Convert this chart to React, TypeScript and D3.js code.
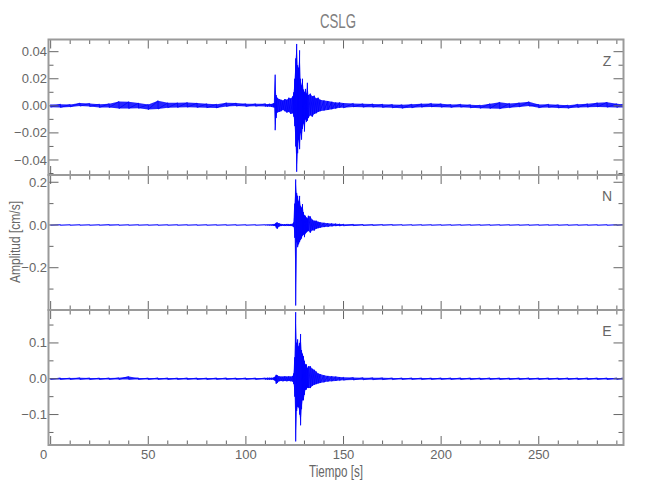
import React from "react";
import * as d3 from "d3";

// ---------- data ----------
const TITLE = "CSLG";
const X_TICKS = [0, 50, 100, 150, 200, 250];
const Z_TICKS = [-0.04, -0.02, 0, 0.02, 0.04];
const N_TICKS = [-0.2, 0, 0.2];
const E_TICKS = [-0.1, 0, 0.1];

// sample times [s] of the envelope (max/min per bin)
const TIMES = [
  0, 5, 10, 15, 20, 25, 30, 35, 40, 45, 50, 55, 60, 65, 70, 75, 80, 85, 90, 95, 100, 105, 110,
  111, 112, 113, 114, 114.5,
  115, 115.5, 116,
  117, 118, 119, 120, 121, 122, 123, 124,
  124.5, 125, 125.5, 126, 126.5, 127, 127.5, 128, 128.5, 129, 129.5, 130, 130.5, 131, 131.5, 132,
  133, 134, 135, 136, 137, 138,
  140, 142, 144, 146, 148, 150,
  155, 160, 165, 170, 175, 180, 185, 190, 195, 200, 205, 210, 215, 220, 225, 230, 235, 240, 245, 250, 255, 260, 265, 270, 275, 280, 285, 290,
  293,
];

const Z_MAX = [
  0.001, 0.0012, 0.001, 0.002, 0.0018, 0.0012, 0.0016, 0.0032, 0.003, 0.002, 0.001, 0.0038, 0.0022, 0.0022, 0.0024, 0.002, 0.0015, 0.0012, 0.0022, 0.002, 0.0015, 0.0015, 0.0015,
  0.0012, 0.0015, 0.0014, 0.0018, 0.002,
  0.023, 0.008, 0.006,
  0.005, 0.0045, 0.004, 0.005, 0.0045, 0.006, 0.0055, 0.007,
  0.01, 0.02, 0.035, 0.0457, 0.03, 0.028, 0.041, 0.02, 0.015, 0.02, 0.012, 0.01, 0.0125, 0.009, 0.017, 0.008,
  0.009, 0.007, 0.0075, 0.0055, 0.006, 0.0045,
  0.004, 0.0035, 0.003, 0.0025, 0.0025, 0.002,
  0.0018, 0.0015, 0.0014, 0.0012, 0.001, 0.0008, 0.0012, 0.0015, 0.0018, 0.0015, 0.001, 0.0012, 0.0008, 0.0005, 0.0015, 0.0026, 0.0018, 0.0022, 0.003, 0.001, 0.0012, 0.0008, 0.0005, 0.0012, 0.0015, 0.0022, 0.0026, 0.0015,
  0.0012,
];
const Z_MIN = [
  -0.001, -0.0012, -0.0008, -0.0002, -0.0005, -0.0012, -0.0013, -0.002, -0.002, -0.0018, -0.0028, -0.0024, -0.0014, -0.0012, -0.001, -0.0012, -0.0014, -0.0016, -0.0005, -0.0002, -0.0005, -0.0003, -0.0005,
  -0.0006, -0.0005, -0.0008, -0.001, -0.0012,
  -0.018, -0.009, -0.005,
  -0.0045, -0.004, -0.003, -0.004, -0.005, -0.0045, -0.006, -0.0055,
  -0.008, -0.015, -0.03, -0.0487, -0.035, -0.025, -0.032, -0.02, -0.025, -0.017, -0.013, -0.019, -0.01, -0.012, -0.011, -0.009,
  -0.007, -0.008, -0.006, -0.0055, -0.0045, -0.004,
  -0.0035, -0.003, -0.0025, -0.002, -0.0015, -0.0015,
  -0.0008, -0.001, -0.001, -0.0012, -0.0015, -0.0018, -0.0015, -0.001, -0.0008, -0.001, -0.0012, -0.001, -0.0015, -0.0018, -0.002, -0.0022, -0.0014, -0.0008, -0.0002, -0.0015, -0.0012, -0.0016, -0.0018, -0.0012, -0.001, -0.0008, -0.001, -0.0012,
  -0.0012,
];

const N_MAX = [
  0.0012, 0.0015, 0.0014, 0.0016, 0.0013, 0.0015, 0.0017, 0.0015, 0.0014, 0.0016, 0.0013, 0.0015, 0.0014, 0.0016, 0.0015, 0.0013, 0.0015, 0.0014, 0.0016, 0.0015, 0.0014, 0.0015, 0.0016,
  0.0018, 0.002, 0.002, 0.003, 0.003,
  0.006, 0.01, 0.012,
  0.008, 0.005, 0.004, 0.004, 0.005, 0.004, 0.005, 0.006,
  0.012, 0.1, 0.213, 0.15, 0.136, 0.11, 0.136, 0.09, 0.081, 0.098, 0.06, 0.045, 0.043, 0.035, 0.03, 0.043,
  0.04, 0.025, 0.02, 0.02, 0.015, 0.013,
  0.01, 0.008, 0.007, 0.006, 0.005, 0.004,
  0.003, 0.0025, 0.002, 0.0018, 0.0018, 0.0016, 0.0015, 0.0016, 0.0015, 0.0014, 0.0015, 0.0016, 0.0015, 0.0014, 0.0015, 0.0016, 0.0015, 0.0014, 0.0015, 0.0016, 0.0015, 0.0014, 0.0015, 0.0016, 0.0015, 0.0014, 0.0015, 0.0016,
  0.0015,
];
const N_MIN = [
  -0.0012, -0.0014, -0.0015, -0.0013, -0.0016, -0.0015, -0.0014, -0.0016, -0.0015, -0.0013, -0.0015, -0.0016, -0.0014, -0.0015, -0.0013, -0.0016, -0.0015, -0.0014, -0.0015, -0.0016, -0.0014, -0.0015, -0.0015,
  -0.0018, -0.002, -0.002, -0.003, -0.003,
  -0.005, -0.012, -0.018,
  -0.007, -0.005, -0.004, -0.005, -0.004, -0.005, -0.005, -0.006,
  -0.01, -0.06, -0.377, -0.08, -0.104, -0.09, -0.08, -0.07, -0.063, -0.05, -0.045, -0.057, -0.04, -0.035, -0.03, -0.028,
  -0.036, -0.025, -0.026, -0.018, -0.015, -0.013,
  -0.01, -0.008, -0.006, -0.005, -0.005, -0.004,
  -0.003, -0.0025, -0.002, -0.0018, -0.0016, -0.0015, -0.0016, -0.0015, -0.0014, -0.0015, -0.0016, -0.0015, -0.0014, -0.0015, -0.0016, -0.0015, -0.0014, -0.0015, -0.0016, -0.0015, -0.0014, -0.0015, -0.0016, -0.0015, -0.0014, -0.0015, -0.0016, -0.0015,
  -0.0015,
];

const E_MAX = [
  0.002, 0.0022, 0.002, 0.0025, 0.0022, 0.002, 0.0023, 0.0025, 0.006, 0.0022, 0.002, 0.0024, 0.0022, 0.002, 0.0023, 0.0021, 0.002, 0.0022, 0.0024, 0.002, 0.0022, 0.0021, 0.0022,
  0.0025, 0.0025, 0.0025, 0.003, 0.004,
  0.006, 0.011, 0.01,
  0.007, 0.006, 0.006, 0.007, 0.006, 0.007, 0.006, 0.008,
  0.015, 0.06, 0.186, 0.1, 0.11, 0.09, 0.1, 0.125, 0.08, 0.07, 0.063, 0.05, 0.04, 0.04, 0.03, 0.035,
  0.035, 0.028, 0.025, 0.02, 0.015, 0.013,
  0.01, 0.008, 0.007, 0.006, 0.005, 0.004,
  0.0035, 0.003, 0.0028, 0.0025, 0.0024, 0.0022, 0.0023, 0.0022, 0.0021, 0.0023, 0.0022, 0.0024, 0.0022, 0.0021, 0.0023, 0.0022, 0.002, 0.0022, 0.0023, 0.0021, 0.0022, 0.002, 0.0022, 0.0021, 0.0023, 0.0022, 0.0021, 0.0022,
  0.0022,
];
const E_MIN = [
  -0.002, -0.0021, -0.0022, -0.002, -0.0023, -0.0021, -0.002, -0.0022, -0.0018, -0.0021, -0.0023, -0.002, -0.0022, -0.0021, -0.002, -0.0022, -0.0023, -0.002, -0.0021, -0.0022, -0.002, -0.0021, -0.0022,
  -0.0025, -0.0025, -0.0025, -0.003, -0.004,
  -0.006, -0.014, -0.012,
  -0.007, -0.006, -0.007, -0.006, -0.007, -0.006, -0.007, -0.008,
  -0.015, -0.05, -0.175, -0.09, -0.078, -0.08, -0.1, -0.13, -0.085, -0.06, -0.06, -0.045, -0.031, -0.03, -0.025, -0.026,
  -0.026, -0.02, -0.017, -0.015, -0.013, -0.012,
  -0.01, -0.008, -0.007, -0.006, -0.005, -0.004,
  -0.0035, -0.003, -0.0028, -0.0025, -0.0024, -0.0022, -0.0021, -0.0023, -0.0022, -0.002, -0.0022, -0.0021, -0.0023, -0.0022, -0.002, -0.0021, -0.0022, -0.0023, -0.0021, -0.0022, -0.002, -0.0022, -0.0021, -0.0023, -0.0022, -0.0021, -0.0022, -0.002,
  -0.0022,
];

// ---------- layout ----------
const W = 650;
const H = 500;
const LEFT = 48.5;
const RIGHT = 623.5;
const FONT = "'Liberation Sans Narrow', 'Liberation Sans', 'DejaVu Sans Condensed', sans-serif";
const TEXT = "#666";
const FRAME = "#9a9a9a";
const TICK = "#666";
const TRACE = "#0000ff";

type Panel = {
  key: string;
  label: string;
  max: number[];
  min: number[];
  domain: [number, number];
  top: number;
  bottom: number;
  ticks: number[];
  minorStep: number;
  fmt: string;
};

const PANELS: Panel[] = [
  { key: "z", label: "Z", max: Z_MAX, min: Z_MIN, domain: [-0.0511, 0.049], top: 39.5, bottom: 175, ticks: Z_TICKS, minorStep: 0.01, fmt: ".2f" },
  { key: "n", label: "N", max: N_MAX, min: N_MIN, domain: [-0.398, 0.234], top: 175, bottom: 310, ticks: N_TICKS, minorStep: 0.1, fmt: ".1f" },
  { key: "e", label: "E", max: E_MAX, min: E_MIN, domain: [-0.185, 0.192], top: 310, bottom: 445, ticks: E_TICKS, minorStep: 0.05, fmt: ".1f" },
];

const x = d3.scaleLinear().domain([-1.1, 293.4]).range([LEFT, RIGHT]);
const xMinor = d3.range(0, 294, 10);

function PanelView({ p }: { p: Panel }) {
  const y = d3.scaleLinear().domain(p.domain).range([p.bottom, p.top]);
  const n = Math.min(TIMES.length, p.max.length, p.min.length);
  const idx = d3.range(n);
  const area = d3
    .area<number>()
    .x((i) => x(TIMES[i]))
    .y0((i) => y(p.min[i]))
    .y1((i) => y(p.max[i]));
  const pts: [number, number][] = [];
  idx.forEach((i) => {
    pts.push([x(TIMES[i]), y(p.max[i])]);
    pts.push([x(TIMES[i]), y(p.min[i])]);
  });
  const line = d3.line();
  const fmt = d3.format(p.fmt);
  const yMinor = d3.range(
    Math.ceil(p.domain[0] / p.minorStep - 1e-6),
    Math.floor(p.domain[1] / p.minorStep + 1e-6) + 1
  ).map((k) => k * p.minorStep);
  const clipId = `clip-${p.key}`;
  return (
    <g>
      <defs>
        <clipPath id={clipId}>
          <rect x={LEFT} y={p.top} width={RIGHT - LEFT} height={p.bottom - p.top} />
        </clipPath>
      </defs>
      <g clipPath={`url(#${clipId})`}>
        <path d={area(idx) || ""} fill={TRACE} fillOpacity={0.85} stroke="none" />
        <path d={line(pts) || ""} fill="none" stroke={TRACE} strokeWidth={0.8} />
      </g>
      {xMinor.map((t) => {
        const major = t % 50 === 0;
        const len = major ? 9 : 4.5;
        return (
          <g key={`xt${t}`} stroke={TICK} strokeWidth={1}>
            <line x1={x(t)} x2={x(t)} y1={p.top} y2={p.top + len} />
            <line x1={x(t)} x2={x(t)} y1={p.bottom} y2={p.bottom - len} />
          </g>
        );
      })}
      {yMinor.map((v) => {
        const major = p.ticks.some((t) => Math.abs(t - v) < 1e-9);
        const len = major ? 10 : 5;
        return (
          <g key={`yt${v}`} stroke={TICK} strokeWidth={1}>
            <line x1={LEFT} x2={LEFT + len} y1={y(v)} y2={y(v)} />
            <line x1={RIGHT} x2={RIGHT - len} y1={y(v)} y2={y(v)} />
          </g>
        );
      })}
      {p.ticks.map((v) => (
        <text
          key={`yl${v}`}
          x={LEFT - 1.5}
          y={y(v)}
          dy="0.35em"
          textAnchor="end"
          fontFamily={FONT}
          fontSize={13}
          fill={TEXT}
        >
          {fmt(v)}
        </text>
      ))}
      <rect x={LEFT} y={p.top} width={RIGHT - LEFT} height={p.bottom - p.top} fill="none" stroke={FRAME} strokeWidth={2} />
      <text x={607} y={p.top + 26} textAnchor="middle" fontFamily={FONT} fontSize={14} fill={TEXT}>
        {p.label}
      </text>
    </g>
  );
}

export default function App() {
  const bottom = PANELS[PANELS.length - 1].bottom;
  return (
    <svg width={W} height={H} style={{ position: "absolute", left: 0, top: 0, background: "#fff" }}>
      <rect width={W} height={H} fill="#fff" />
      <text
        x={338}
        y={28}
        textAnchor="middle"
        fontFamily={FONT}
        fontSize={21}
        fill="#808080"
        textLength={36}
        lengthAdjust="spacingAndGlyphs"
      >
        {TITLE}
      </text>
      {PANELS.map((p) => (
        <PanelView key={p.key} p={p} />
      ))}
      {X_TICKS.map((t) => (
        <text
          key={`xl${t}`}
          x={t === 0 ? x(t) - 7 : x(t)}
          y={bottom + 13.5}
          textAnchor="middle"
          fontFamily={FONT}
          fontSize={13}
          fill={TEXT}
        >
          {t}
        </text>
      ))}
      <text
        x={336}
        y={477}
        textAnchor="middle"
        fontFamily={FONT}
        fontSize={16}
        fill={TEXT}
        textLength={54}
        lengthAdjust="spacingAndGlyphs"
      >
        Tiempo [s]
      </text>
      <text
        transform={`translate(20, 242) rotate(-90)`}
        textAnchor="middle"
        fontFamily={FONT}
        fontSize={15}
        fill={TEXT}
        textLength={82}
        lengthAdjust="spacingAndGlyphs"
      >
        Amplitud [cm/s]
      </text>
    </svg>
  );
}
